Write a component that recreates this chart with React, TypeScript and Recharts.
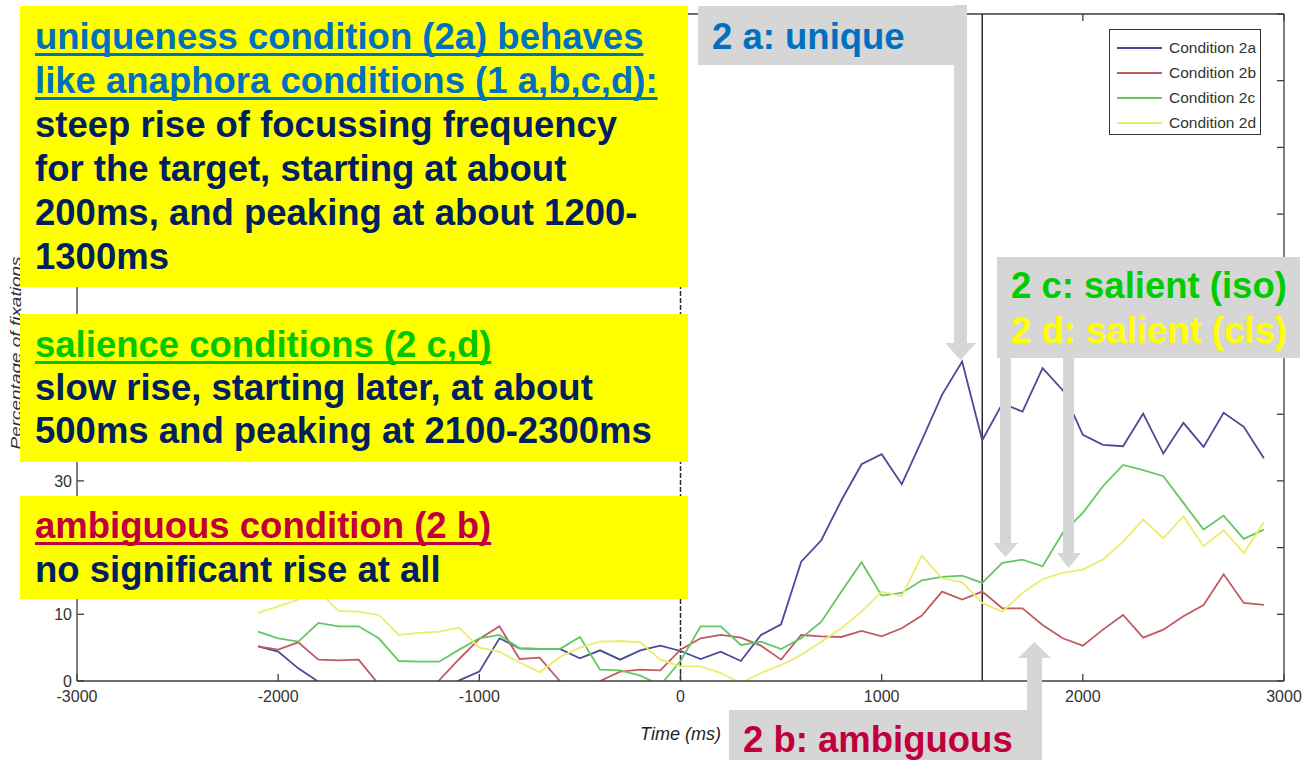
import React from 'react';
import { LineChart, Line, XAxis, YAxis, ReferenceLine, Legend } from 'recharts';

const timesMs = [
  -2100, -2000, -1900, -1800, -1700, -1600, -1500, -1400, -1300, -1200, -1100,
  -1000, -900, -800, -700, -600, -500, -400, -300, -200, -100, 0,
  100, 200, 300, 400, 500, 600, 700, 800, 900, 1000, 1100, 1200, 1300, 1400, 1500,
  1600, 1700, 1800, 1900, 2000, 2100, 2200, 2300, 2400, 2500, 2600, 2700, 2800, 2900,
];

const condition2a = [
  5.2, 4.4, 1.9, -0.1, -2.5, -3.5, -3.8, -3.2, -2.6, -2.0, 0.1,
  1.4, 6.4, 4.9, 4.8, 4.8, 3.4, 4.6, 3.2, 4.6, 5.3, 4.5,
  3.3, 4.4, 3.0, 6.9, 8.5, 17.9, 21.1, 27.1, 32.5, 34.0, 29.5, 36.1, 42.9, 47.9, 36.1,
  41.6, 40.4, 46.9, 43.6, 36.9, 35.4, 35.2, 40.1, 34.1, 38.7, 35.1, 40.2, 38.1, 33.4,
];

const condition2b = [
  5.2, 4.7, 5.8, 3.2, 3.1, 3.2, -0.5, -3.0, -2.5, 0.1, 3.3,
  6.3, 8.2, 3.3, 3.5, 0.0, -2.0, 0.0, 1.4, 1.7, 1.6, 4.7,
  6.4, 6.9, 6.5, 5.3, 3.2, 6.9, 6.7, 6.6, 7.5, 6.7, 7.9, 9.8, 13.4, 12.2, 13.4,
  10.9, 10.9, 8.4, 6.4, 5.3, 7.7, 9.9, 6.5, 7.7, 9.7, 11.4, 16.0, 11.7, 11.4,
];

const condition2c = [
  7.4, 6.4, 5.9, 8.7, 8.2, 8.2, 6.4, 3.0, 2.9, 2.9, 4.7,
  6.4, 6.9, 4.9, 4.8, 4.8, 6.6, 1.7, 1.6, 0.8, -0.6, 3.0,
  8.2, 8.2, 5.4, 5.9, 4.8, 6.4, 8.9, 13.4, 17.8, 12.8, 13.2, 15.1, 15.6, 15.8, 14.7,
  17.7, 18.2, 17.2, 22.2, 25.2, 29.2, 32.4, 31.6, 30.7, 26.7, 22.7, 24.8, 21.3, 22.7,
];

const condition2d = [
  10.2, 11.2, 12.2, 13.5, 10.5, 10.4, 9.9, 6.9, 7.2, 7.4, 8.0,
  5.0, 4.4, 2.8, 1.3, 3.6, 5.0, 5.9, 6.0, 5.8, 3.2, 2.2,
  2.2, 1.2, -0.3, 1.2, 2.4, 3.9, 5.9, 7.9, 10.4, 13.4, 12.7, 18.8, 15.4, 14.8, 11.7,
  10.4, 13.2, 15.3, 16.2, 16.7, 18.2, 20.9, 24.2, 21.4, 24.7, 20.2, 22.6, 19.2, 23.8,
];

const xTickValues = [-3000, -2000, -1000, 0, 1000, 2000, 3000];
const yTickValues = [0, 10, 20, 30, 40, 50, 60, 70, 80, 90, 100];
const seriesKeys = ['c2a', 'c2b', 'c2c', 'c2d'];
const seriesLabels = ['Condition 2a', 'Condition 2b', 'Condition 2c', 'Condition 2d'];
const seriesColors = ['#4a4a96', '#c25a63', '#62c862', '#ecec6c'];

const data = timesMs.map((t, i) => ({
  t,
  c2a: condition2a[i],
  c2b: condition2b[i],
  c2c: condition2c[i],
  c2d: condition2d[i],
}));

const AXIS = '#3c3c3c';
const TICK_FONT = 'Arial, "Liberation Sans", sans-serif';

const BottomTick = (p: any) => (
  <g>
    <line x1={p.x} x2={p.x} y1={p.y} y2={p.y - 7} stroke={AXIS} strokeWidth={1.3} />
    <text x={p.x} y={p.y + 21} textAnchor="middle" fontSize={16} fill="#333" fontFamily={TICK_FONT}>
      {p.payload.value}
    </text>
  </g>
);
const TopTick = (p: any) => (
  <line x1={p.x} x2={p.x} y1={p.y} y2={p.y + 7} stroke={AXIS} strokeWidth={1.3} />
);
const LeftTick = (p: any) => (
  <g>
    <line x1={p.x} x2={p.x + 7} y1={p.y} y2={p.y} stroke={AXIS} strokeWidth={1.3} />
    <text x={p.x - 5} y={p.y + 6} textAnchor="end" fontSize={16} fill="#333" fontFamily={TICK_FONT}>
      {p.payload.value}
    </text>
  </g>
);
const RightTick = (p: any) => (
  <line x1={p.x} x2={p.x - 7} y1={p.y} y2={p.y} stroke={AXIS} strokeWidth={1.3} />
);

const LegendBox = (props: any) => {
  const payload = props.payload || [];
  return (
    <div
      style={{
        width: 152,
        height: 106,
        border: '1.5px solid #333',
        background: '#fff',
        boxSizing: 'border-box',
        paddingTop: 5,
        fontFamily: TICK_FONT,
      }}
    >
      {payload.map((e: any, i: number) => (
        <div key={i} style={{ display: 'flex', alignItems: 'center', height: 25 }}>
          <svg width={59} height={10} style={{ display: 'block' }}>
            <line x1={7} x2={52} y1={5} y2={5} stroke={e.color} strokeWidth={2} />
          </svg>
          <span style={{ fontSize: 15.5, color: '#333', whiteSpace: 'nowrap' }}>{e.value}</span>
        </div>
      ))}
    </div>
  );
};

type NoteLine = { text: string; color: string; underline?: boolean };

const Note = ({
  left, top, width, height, bg, padTop, padLeft, lines, lineHeight = 44,
}: {
  left: number; top: number; width: number; height: number; bg: string;
  padTop: number; padLeft: number; lines: NoteLine[]; lineHeight?: number;
}) => (
  <div
    style={{
      position: 'absolute',
      left, top, width, height,
      background: bg,
      boxSizing: 'border-box',
      paddingTop: padTop,
      paddingLeft: padLeft,
      fontFamily: '"Liberation Sans", Arial, sans-serif',
      fontWeight: 'bold',
      fontSize: 36.5,
      lineHeight: `${lineHeight}px`,
      whiteSpace: 'nowrap',
      zIndex: 3,
    }}
  >
    {lines.map((l, i) => (
      <div key={i} style={{ height: lineHeight }}>
        <span
          style={{
            color: l.color,
            textDecoration: l.underline ? 'underline' : 'none',
            textDecorationThickness: 3,
            textDecorationSkipInk: 'none',
            textUnderlineOffset: 4,
          }}
        >
          {l.text}
        </span>
      </div>
    ))}
  </div>
);

const NAVY = '#002060';
const GRAY = '#d6d6d6';

export default function App() {
  return (
    <div style={{ position: 'relative', width: 1309, height: 760, overflow: 'hidden', background: '#fff' }}>
      <style>{'body{margin:0;overflow:hidden;}'}</style>
      <LineChart
        width={1309}
        height={760}
        data={data}
        margin={{ top: 13, right: 24, bottom: 78, left: 76 }}
      >
        <XAxis
          xAxisId="b"
          dataKey="t"
          type="number"
          domain={[-3000, 3000]}
          ticks={xTickValues}
          interval={0}
          height={1}
          tickSize={0}
          tickMargin={0}
          tickLine={false}
          axisLine={{ stroke: AXIS, strokeWidth: 1.3 }}
          tick={BottomTick}
          allowDataOverflow
          label={{
            content: (p: any) => (
              <text
                x={680.5}
                y={740}
                textAnchor="middle"
                fontSize={18}
                fontStyle="italic"
                fill="#222"
                fontFamily={TICK_FONT}
              >
                Time (ms)
              </text>
            ),
          }}
        />
        <XAxis
          xAxisId="top"
          orientation="top"
          dataKey="t"
          type="number"
          domain={[-3000, 3000]}
          ticks={xTickValues}
          interval={0}
          height={1}
          tickSize={0}
          tickMargin={0}
          tickLine={false}
          axisLine={{ stroke: AXIS, strokeWidth: 1.3 }}
          tick={TopTick}
          allowDataOverflow
        />
        <YAxis
          yAxisId="l"
          type="number"
          domain={[0, 100]}
          ticks={yTickValues}
          interval={0}
          width={1}
          tickSize={0}
          tickMargin={0}
          tickLine={false}
          axisLine={{ stroke: AXIS, strokeWidth: 1.3 }}
          tick={LeftTick}
          allowDataOverflow
          label={{
            content: () => (
              <text
                x={21}
                y={353}
                transform="rotate(-90 21 353)"
                textAnchor="middle"
                fontSize={15}
                fontStyle="italic"
                fill="#333"
                fontFamily={TICK_FONT}
                textLength={193}
                lengthAdjust="spacingAndGlyphs"
              >
                Percentage of fixations
              </text>
            ),
          }}
        />
        <YAxis
          yAxisId="r"
          orientation="right"
          type="number"
          domain={[0, 100]}
          ticks={yTickValues}
          interval={0}
          width={1}
          tickSize={0}
          tickMargin={0}
          tickLine={false}
          axisLine={{ stroke: AXIS, strokeWidth: 1.3 }}
          tick={RightTick}
          allowDataOverflow
        />
        <ReferenceLine xAxisId="b" yAxisId="l" x={0} stroke="#2a2a2a" strokeWidth={1.5} strokeDasharray="5 2" />
        <ReferenceLine xAxisId="b" yAxisId="l" x={1500} stroke="#2a2a2a" strokeWidth={1.5} />
        {seriesKeys.map((k, i) => (
          <Line
            key={k}
            xAxisId="b"
            yAxisId="l"
            type="linear"
            dataKey={k}
            name={seriesLabels[i]}
            stroke={seriesColors[i]}
            strokeWidth={1.8}
            dot={false}
            activeDot={false}
            isAnimationActive={false}
          />
        ))}
        <Legend
          layout="vertical"
          align="center"
          verticalAlign="middle"
          content={LegendBox}
          wrapperStyle={{ position: 'absolute', left: 1109, top: 29, width: 152, height: 106 }}
        />
      </LineChart>

      <svg
        width={1309}
        height={760}
        style={{ position: 'absolute', left: 0, top: 0, zIndex: 2, pointerEvents: 'none' }}
      >
        <rect x={954} y={5} width={13} height={339} fill={GRAY} />
        <polygon points="945,343 976,343 960.5,360" fill={GRAY} />
        <rect x={1000} y={300} width={11} height={244} fill={GRAY} />
        <polygon points="993,543 1018,543 1005.5,557" fill={GRAY} />
        <rect x={1063} y={300} width={11} height={254} fill={GRAY} />
        <polygon points="1057,553 1081,553 1068.5,568" fill={GRAY} />
        <rect x={1027} y={657} width={15} height={60} fill={GRAY} />
        <polygon points="1018,658 1051,658 1034.5,642" fill={GRAY} />
      </svg>

      <Note
        left={20} top={6} width={668} height={281} bg="#ffff00" padTop={8.5} padLeft={15}
        lines={[
          { text: 'uniqueness condition (2a) behaves', color: '#0070c0', underline: true },
          { text: 'like anaphora conditions (1 a,b,c,d):', color: '#0070c0', underline: true },
          { text: 'steep rise of focussing frequency', color: NAVY },
          { text: 'for the target, starting at about', color: NAVY },
          { text: '200ms, and peaking at about 1200-', color: NAVY },
          { text: '1300ms', color: NAVY },
        ]}
      />
      <Note
        left={20} top={314} width={668} height={148} bg="#ffff00" padTop={8.5} padLeft={15} lineHeight={43}
        lines={[
          { text: 'salience conditions (2 c,d)', color: '#00c800', underline: true },
          { text: 'slow rise, starting later, at about', color: NAVY },
          { text: '500ms and peaking at 2100-2300ms', color: NAVY },
        ]}
      />
      <Note
        left={20} top={496} width={668} height={103} bg="#ffff00" padTop={7.5} padLeft={15}
        lines={[
          { text: 'ambiguous condition (2 b)', color: '#c0003c', underline: true },
          { text: 'no significant rise at all', color: NAVY },
        ]}
      />
      <Note
        left={698} top={6} width={268} height={59} bg={GRAY} padTop={8.5} padLeft={14}
        lines={[{ text: '2 a: unique', color: '#0070c0' }]}
      />
      <Note
        left={997} top={257} width={303} height={101} bg={GRAY} padTop={5.5} padLeft={14} lineHeight={45}
        lines={[
          { text: '2 c: salient (iso)', color: '#00cc00' },
          { text: '2 d: salient (cls)', color: '#ffff00' },
        ]}
      />
      <Note
        left={729} top={710} width={313} height={50} bg={GRAY} padTop={7.5} padLeft={14}
        lines={[{ text: '2 b: ambiguous', color: '#c0003c' }]}
      />
    </div>
  );
}
